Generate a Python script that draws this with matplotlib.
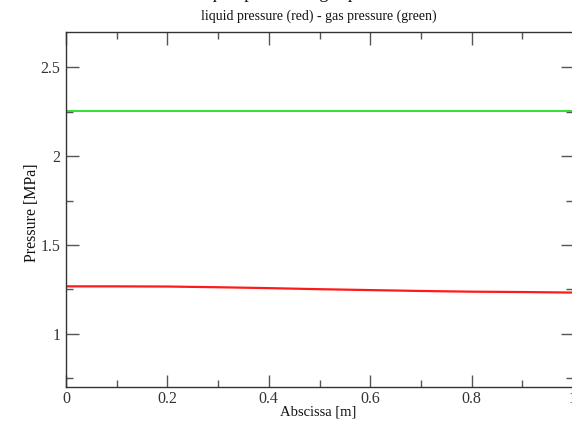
import matplotlib
matplotlib.use("Agg")
import matplotlib.pyplot as plt
from matplotlib.ticker import MultipleLocator

plt.rcParams['font.family'] = ['Liberation Serif', 'DejaVu Serif']

# Data
x_gas = [0.0, 1.0]
p_gas = [2.255, 2.255]
x_liq = [0.0, 0.1, 0.2, 0.3, 0.4, 0.5, 0.6, 0.7, 0.8, 0.9, 1.0]
p_liq = [1.267, 1.267, 1.266, 1.262, 1.257, 1.251, 1.246, 1.241, 1.237, 1.235, 1.232]

title = "Liquid pressure - gas pressure"
subtitle = "liquid pressure (red) - gas pressure (green)"
xlabel = "Abscissa [m]"
ylabel = "Pressure [MPa]"

W, H = 572, 421
fig = plt.figure(figsize=(W / 100, H / 100), dpi=100)
ax = fig.add_axes([66 / W, 1 - 387 / H, (573 - 66) / W, (387 - 32) / H])

ax.plot(x_gas, p_gas, color='#22dd22', lw=1.3)
ax.plot(x_liq, p_liq, color='#ff1a1a', lw=1.6)

ax.set_xlim(0, 1)
ax.set_ylim(0.7, 2.7)
ax.xaxis.set_major_locator(MultipleLocator(0.2))
ax.xaxis.set_minor_locator(MultipleLocator(0.1))
ax.yaxis.set_major_locator(MultipleLocator(0.5))
ax.yaxis.set_minor_locator(MultipleLocator(0.25))
ax.set_xticks([0, 0.2, 0.4, 0.6, 0.8, 1.0])
ax.set_xticklabels(['0', '0.2', '0.4', '0.6', '0.8', '1'])
ax.set_yticks([1, 1.5, 2, 2.5])
ax.set_yticklabels(['1', '1.5', '2', '2.5'])

ax.tick_params(which='both', direction='in', top=True, right=True,
               color='#555555', labelsize=11.5, labelcolor='#333333')
ax.tick_params(which='major', length=9, width=1)
ax.tick_params(axis='x', which='major', pad=3)
ax.tick_params(axis='y', which='major', pad=4)
ax.tick_params(which='minor', length=5, width=1)
for s in ax.spines.values():
    s.set_color('#333333')
    s.set_linewidth(1)

fig.text(32 / W, 1 - 213 / H, ylabel, ha='center', va='center', rotation=90,
         fontsize=11.5, color='#111111')
fig.text(318 / W, 1 - 412 / H, xlabel, ha='center', va='center', fontsize=10.5, color='#111111')

fig.text(319 / W, 1 - 16 / H, subtitle, ha='center', va='center', fontsize=10, color='#111111')
fig.text(300 / W, 1 + 6 / H, title, ha='center', va='center', fontsize=13, color='#111111')

fig.savefig('out.png', dpi=100)
